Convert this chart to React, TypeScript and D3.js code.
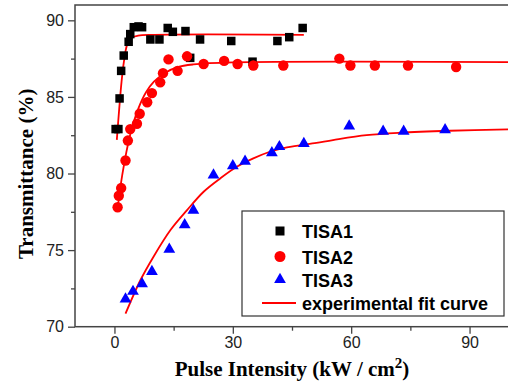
import React, { useRef, useEffect } from "react";
import * as d3 from "d3";

// TISA1 - black squares
const tisa1X = [0.3, 1.0, 1.3, 1.7, 2.35, 3.6, 4.0, 4.9, 6.1, 7.0, 9.1, 11.4, 13.5, 14.8, 18.0, 19.2, 21.7, 29.6, 35.0, 41.3, 44.3, 47.7];
const tisa1Y = [82.9, 82.9, 84.9, 86.7, 87.7, 88.6, 89.1, 89.55, 89.6, 89.55, 88.75, 88.75, 89.5, 89.25, 89.3, 87.55, 88.75, 88.65, 87.3, 88.65, 88.9, 89.5];

// TISA2 - red circles
const tisa2X = [0.8, 1.1, 1.7, 2.8, 3.4, 4.0, 5.7, 6.4, 8.3, 9.5, 11.6, 12.3, 13.7, 16.0, 18.4, 22.6, 27.8, 31.2, 35.2, 42.8, 57.0, 59.8, 66.0, 74.4, 86.6];
const tisa2Y = [77.8, 78.55, 79.05, 80.85, 82.15, 82.9, 83.25, 83.9, 84.65, 85.25, 85.95, 86.55, 87.45, 86.7, 87.65, 87.15, 87.35, 87.15, 87.05, 87.05, 87.5, 87.05, 87.05, 87.05, 86.95];

// TISA3 - blue triangles
const tisa3X = [2.8, 4.7, 7.0, 9.5, 13.9, 17.8, 20.0, 25.1, 30.0, 33.1, 39.9, 41.8, 48.0, 59.5, 68.1, 73.3, 83.8];
const tisa3Y = [71.8, 72.3, 72.8, 73.6, 75.05, 76.65, 77.6, 79.9, 80.5, 80.8, 81.35, 81.75, 81.95, 83.1, 82.75, 82.75, 82.85];

// fit curves
const fit1X = [0.6, 1.2, 1.8, 2.4, 3.2, 4.2, 6.0, 10.0, 48.0];
const fit1Y = [82.2, 84.2, 86.0, 87.3, 88.4, 88.85, 89.0, 89.05, 89.05];
const fit2X = [0.8, 2.0, 4.0, 6.0, 8.0, 10.0, 13.0, 16.0, 20.0, 30.0, 100.0];
const fit2Y = [77.7, 79.95, 82.55, 84.2, 85.3, 86.0, 86.6, 86.95, 87.12, 87.25, 87.27];
const fit3X = [2.8, 6.6, 9.9, 14.2, 18.4, 22.6, 26.8, 31.0, 35.2, 39.4, 43.7, 51.2, 55.4, 63.9, 72.3, 84.9, 100.0];
const fit3Y = [70.85, 73.05, 74.57, 76.31, 77.61, 78.81, 79.68, 80.44, 80.99, 81.42, 81.7, 82.0, 82.18, 82.5, 82.66, 82.79, 82.88];

const xMajor = [0, 30, 60, 90];
const xMinor = [15, 45, 75];
const yMajor = [70, 75, 80, 85, 90];
const yMinor = [72.5, 77.5, 82.5, 87.5];

const legendLabels = ["TISA1", "TISA2", "TISA3", "experimental fit curve"];

export default function App() {
  const ref = useRef<SVGSVGElement>(null);

  useEffect(() => {
    const width = 508;
    const height = 387;
    const left = 75;
    const top = 5;
    const bottom = 326.7;
    const right = 509;

    const x = d3.scaleLinear().domain([-10, 100]).range([left, right]);
    const y = d3.scaleLinear().domain([70, 91]).range([bottom, top]);

    const svg = d3.select(ref.current).html("").attr("width", width).attr("height", height);

    // frame
    svg
      .append("rect")
      .attr("x", left)
      .attr("y", top)
      .attr("width", right - left + 10)
      .attr("height", bottom - top)
      .attr("fill", "none")
      .attr("stroke", "#444")
      .attr("stroke-width", 1.5);

    const tickFont = "'Liberation Sans', Arial, sans-serif";

    // y axis
    const gy = svg
      .append("g")
      .attr("transform", `translate(${left},0)`)
      .call(d3.axisLeft(y).tickValues(yMajor).tickSize(7).tickPadding(4).tickFormat(d3.format("d")));
    gy.select(".domain").remove();
    gy.selectAll("line").attr("stroke", "#444").attr("stroke-width", 1.3);
    gy.selectAll("text").attr("font-size", 16).attr("font-family", tickFont).attr("fill", "#222");

    const gy2 = svg
      .append("g")
      .attr("transform", `translate(${left},0)`)
      .call(d3.axisLeft(y).tickValues(yMinor).tickSize(4).tickFormat(() => ""));
    gy2.select(".domain").remove();
    gy2.selectAll("line").attr("stroke", "#444").attr("stroke-width", 1.3);

    // x axis
    const gx = svg
      .append("g")
      .attr("transform", `translate(0,${bottom})`)
      .call(d3.axisBottom(x).tickValues(xMajor).tickSize(7).tickPadding(3).tickFormat(d3.format("d")));
    gx.select(".domain").remove();
    gx.selectAll("line").attr("stroke", "#444").attr("stroke-width", 1.3);
    gx.selectAll("text").attr("font-size", 16).attr("font-family", tickFont).attr("fill", "#222");

    const gx2 = svg
      .append("g")
      .attr("transform", `translate(0,${bottom})`)
      .call(d3.axisBottom(x).tickValues(xMinor).tickSize(4).tickFormat(() => ""));
    gx2.select(".domain").remove();
    gx2.selectAll("line").attr("stroke", "#444").attr("stroke-width", 1.3);

    // axis titles
    const titleFont = "'Liberation Serif', 'Times New Roman', serif";
    const xt = svg
      .append("text")
      .attr("x", (left + right) / 2)
      .attr("y", 376)
      .attr("text-anchor", "middle")
      .attr("font-family", titleFont)
      .attr("font-weight", "bold")
      .attr("font-size", 21)
      .attr("fill", "#000");
    xt.append("tspan").text("Pulse Intensity (kW / cm");
    xt.append("tspan").attr("font-size", 15).attr("dy", -8).text("2");
    xt.append("tspan").attr("dy", 8).text(")");

    svg
      .append("text")
      .attr("transform", `translate(33,${(top + bottom) / 2 + 8}) rotate(-90)`)
      .attr("text-anchor", "middle")
      .attr("font-family", titleFont)
      .attr("font-weight", "bold")
      .attr("font-size", 21)
      .attr("fill", "#000")
      .text("Transmittance (%)");

    // fit curves
    const line = d3
      .line<[number, number]>()
      .x((d) => x(d[0]))
      .y((d) => y(d[1]))
      .curve(d3.curveCatmullRom.alpha(0.5));

    const fits: [number[], number[]][] = [
      [fit1X, fit1Y],
      [fit2X, fit2Y],
      [fit3X, fit3Y],
    ];
    fits.forEach(([fx, fy]) => {
      svg
        .append("path")
        .attr("d", line(fx.map((v, i) => [v, fy[i]] as [number, number])))
        .attr("fill", "none")
        .attr("stroke", "#ff0000")
        .attr("stroke-width", 1.8);
    });

    // markers
    const sq = 8.5;
    svg
      .append("g")
      .selectAll("rect")
      .data(tisa1X.map((v, i) => [v, tisa1Y[i]]))
      .enter()
      .append("rect")
      .attr("x", (d) => x(d[0]) - sq / 2)
      .attr("y", (d) => y(d[1]) - sq / 2)
      .attr("width", sq)
      .attr("height", sq)
      .attr("fill", "#000");

    svg
      .append("g")
      .selectAll("circle")
      .data(tisa2X.map((v, i) => [v, tisa2Y[i]]))
      .enter()
      .append("circle")
      .attr("cx", (d) => x(d[0]))
      .attr("cy", (d) => y(d[1]))
      .attr("r", 5.2)
      .attr("fill", "#ff0000");

    const tri = d3.symbol().type(d3.symbolTriangle).size(60);
    svg
      .append("g")
      .selectAll("path")
      .data(tisa3X.map((v, i) => [v, tisa3Y[i]]))
      .enter()
      .append("path")
      .attr("d", tri)
      .attr("transform", (d) => `translate(${x(d[0])},${y(d[1])})`)
      .attr("fill", "#0000ff");

    // legend
    const lg = svg.append("g");
    lg.append("rect")
      .attr("x", 242)
      .attr("y", 211)
      .attr("width", 262)
      .attr("height", 105)
      .attr("fill", "#fff")
      .attr("stroke", "#333")
      .attr("stroke-width", 1.2);
    const rowY = [231, 256.5, 279.5, 303];
    lg.append("rect").attr("x", 280 - 4.5).attr("y", rowY[0] - 4.5).attr("width", 9).attr("height", 9).attr("fill", "#000");
    lg.append("circle").attr("cx", 280).attr("cy", rowY[1]).attr("r", 5.5).attr("fill", "#ff0000");
    lg.append("path").attr("d", tri).attr("transform", `translate(280,${rowY[2]})`).attr("fill", "#0000ff");
    lg.append("line")
      .attr("x1", 262)
      .attr("x2", 296)
      .attr("y1", rowY[3])
      .attr("y2", rowY[3])
      .attr("stroke", "#ff0000")
      .attr("stroke-width", 2);
    legendLabels.forEach((t, i) => {
      lg.append("text")
        .attr("x", 302)
        .attr("y", rowY[i] + 7)
        .attr("font-family", tickFont)
        .attr("font-weight", "bold")
        .attr("font-size", 18)
        .attr("fill", "#000")
        .text(t);
    });
  }, []);

  return (
    <div>
      <svg ref={ref} style={{ position: "absolute", left: 0, top: 0, background: "#fff" }}></svg>
    </div>
  );
}
